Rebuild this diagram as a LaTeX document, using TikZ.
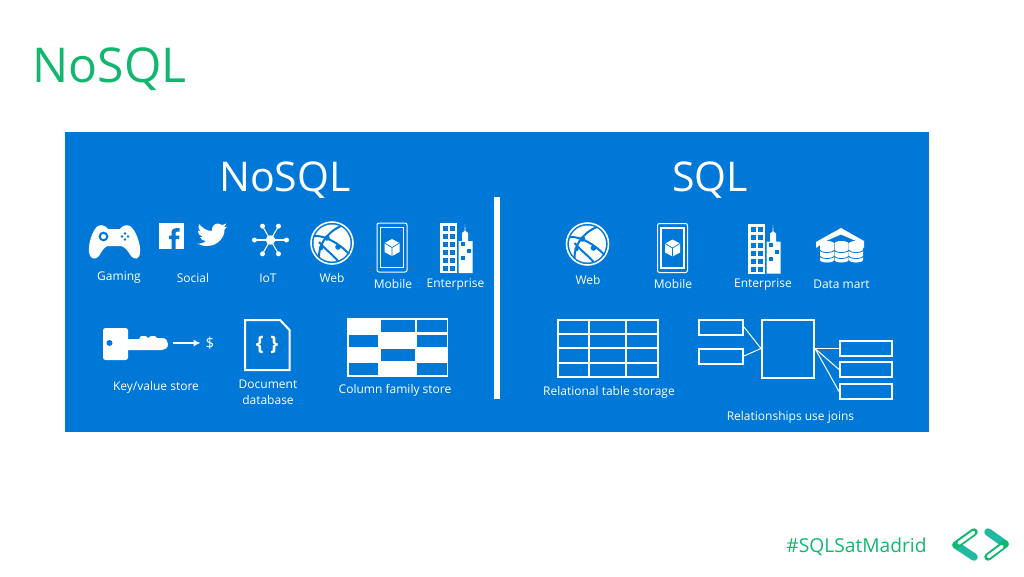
\documentclass[tikz,border=0pt]{standalone}
\usepackage{fontspec}
\usetikzlibrary{arrows.meta}
\setmainfont{Open Sans}
\definecolor{panel}{HTML}{0078D7}
\definecolor{slidegreen}{HTML}{12B76F}
\definecolor{chevteal}{HTML}{1FB8A0}
\tikzset{
	webicon/.pic = {
		\fill[white] (0,0) circle (18.5);
		\draw[white, line width=1.6pt] (0,0) circle (21);
		\draw[panel, line width=2pt] (-18,-7) .. controls (-8,-8) and (7,0) .. (17,11);
		\draw[panel, line width=2pt] (9,-17) .. controls (0,-13) and (-13,-3) .. (-13,14);
		\draw[panel, line width=2pt] (-13,-1) .. controls (-6,7) and (2,13) .. (6,18);
		\fill[panel] (-5,-5) circle (2.8) (6,4) circle (2.8) (-11,5) circle (2.2);
	},
	mobileicon/.pic = {
		\draw[white, line width=1pt, rounded corners=2pt] (-15,-24.5) rectangle (15,24.5);
		\draw[white, line width=1.4pt] (-11.5,-20) rectangle (11.5,20);
		\fill[white] (0,-8.5) -- (7.5,-4.5) -- (7.5,4.5) -- (0,8.5) -- (-7.5,4.5) -- (-7.5,-4.5) -- cycle;
		\draw[panel, line width=0.7pt] (-7.5,-4.5) -- (0,0) -- (7.5,-4.5) (0,0) -- (0,8.5);
	},
	enterpriseicon/.pic = {
		\fill[white] (0,0) rectangle (17,50);
		\foreach \rowy in {3,11,19,27,35,43} {
			\fill[panel] (3,\rowy) rectangle +(5,5);
			\fill[panel] (10,\rowy) rectangle +(5,5);
		}
		\fill[white] (18.5,50) -- (18.5,18) -- (22,18) -- (22,10) -- (24.5,8) -- (25,1) -- (25.5,8) -- (28,10) -- (28,18) -- (32.5,18) -- (32.5,50) -- cycle;
		\fill[panel] (21,19) rectangle +(4,4);
		\fill[panel] (26.5,26) rectangle +(4,4);
		\fill[panel] (21,33) rectangle +(4,4);
	}
}
\begin{document}
\begin{tikzpicture}[x=1pt, y=-1pt,
	iconlabel/.style = {text=white, inner sep=0pt, font=\fontsize{12}{14}\selectfont},
	heading/.style = {text=white, inner sep=0pt, font=\fontsize{41}{44}\selectfont},
	joinbox/.style = {draw=white, line width=2pt, inner sep=0pt},
	joinline/.style = {white, line width=1pt}]

	\useasboundingbox (0,0) rectangle (1024,576);
	\node[text=slidegreen, inner sep=0pt, font=\fontsize{48}{54}\selectfont] (slidetitle) at (109.5,69) {NoSQL};
	\fill[panel] (65,132) rectangle (929,432);
	\node[heading] (nosql) at (285,180) {NoSQL};
	\node[heading] (sql) at (710,180) {SQL};
	\fill[white] (494,197) rectangle (500,399);

	% gaming
	\fill[white] (98,226) .. controls (92,230) and (88,245) .. (89,252) .. controls (90,259) and (95,261) .. (99,256) .. controls (102,251) and (104,247) .. (108,246) -- (121,246) .. controls (125,247) and (128,251) .. (131,256) .. controls (135,261) and (140,259) .. (140,252) .. controls (141,245) and (136,230) .. (130,226) .. controls (126,224) and (122,226) .. (120,229) -- (108,229) .. controls (106,226) and (102,224) .. (98,226) -- cycle;
	\draw[panel, line width=2pt] (103.5,236.5) circle (3.8);
	\fill[panel] (125,233.5) circle (1.4) (125,239.5) circle (1.4) (122,236.5) circle (1.4) (128,236.5) circle (1.4);

	% social
	\fill[white] (159,223) rectangle (184,249);
	\fill[panel] (171.5,249) -- (171.5,239) -- (169,239) -- (169,235.5) -- (171.5,235.5) -- (171.5,233) .. controls (171.5,229.5) and (173.5,228) .. (176.5,228) -- (179.5,228) -- (179.5,231.5) -- (177.5,231.5) .. controls (176,231.5) and (175.5,232) .. (175.5,233.5) -- (175.5,235.5) -- (179.5,235.5) -- (179,239) -- (175.5,239) -- (175.5,249) -- cycle;
	\fill[white] (227,226.7) .. controls (226,228) and (225,229) .. (224.5,229.5) .. controls (224.8,237) and (218,246) .. (207,246) .. controls (203,246) and (200,245) .. (197,243.5) .. controls (200,244) and (204,243) .. (206,241) .. controls (203,241) and (201,239.5) .. (200,237) .. controls (201,237) and (202,237) .. (203,237) .. controls (200,236) and (198,234) .. (198,230.5) .. controls (199,231) and (200,231.5) .. (201,231.5) .. controls (198,229) and (198,226) .. (199,224) .. controls (202,228) and (207,231) .. (212,231) .. controls (211.5,227) and (214,223.5) .. (218,223.5) .. controls (220,223.5) and (221,224) .. (222.5,225) .. controls (224,225) and (225,224) .. (226.5,223.5) .. controls (226,225) and (225,226) .. (224,227) .. controls (225,227) and (226,227) .. (227,226.7) -- cycle;

	% iot
	\fill[white] (270.5,240) circle (4.8);
	\foreach \nodeangle in {0,60,120,180,240,300} {
		\draw[white, line width=1.1pt] (270.5,240) -- ++(\nodeangle:16);
		\fill[white] (270.5,240) ++(\nodeangle:16) circle (2.5);
	}

	\pic at (332,243) {webicon};
	\pic at (392,247.5) {mobileicon};
	\pic at (440,223) {enterpriseicon};
	\pic at (587.5,244) {webicon};
	\pic at (672.5,248) {mobileicon};
	\pic at (748,223.5) {enterpriseicon};

	% data mart
	\fill[white] (816,248) -- (816,242) -- (841,228) -- (864,241) -- (864,248) -- (856,241) -- (841,234.5) -- (826,241) -- cycle;
	\foreach \stackx in {827,841.5,856} {
		\fill[white] (\stackx-7,244) arc (180:360:7 and 2.5) -- ++(0,16) arc (0:180:7 and 2.5) -- cycle;
		\fill[white] (\stackx,243.5) ellipse (7 and 2.5);
		\draw[panel, line width=0.8pt] (\stackx-7,250) arc (180:0:7 and 2.5) (\stackx-7,256) arc (180:0:7 and 2.5);
	}

	\node[iconlabel] (gaming) at (119,278) {Gaming};
	\node[iconlabel] (social) at (193,278) {Social};
	\node[iconlabel] (iot) at (268,278) {IoT};
	\node[iconlabel] (web1) at (332,278) {Web};
	\node[iconlabel] (mobile1) at (393,284) {Mobile};
	\node[iconlabel] (enterprise1) at (455.5,285) {Enterprise};
	\node[iconlabel] (web2) at (588,280) {Web};
	\node[iconlabel] (mobile2) at (673,284) {Mobile};
	\node[iconlabel] (enterprise2) at (763,285) {Enterprise};
	\node[iconlabel] (datamart) at (841.5,284) {Data mart};

	% key
	\fill[white, rounded corners=2.5pt] (103,328) rectangle (128,360);
	\fill[white] (127,339) -- (139,339) -- (141,336) -- (146,336) -- (148,338) -- (151,336) -- (155,336) -- (157,338) -- (162,338) .. controls (166,338) and (168,341) .. (168,344) .. controls (168,348) and (165,350) .. (162,350) -- (127,350) -- cycle;
	\fill[panel] (109.5,343) circle (3);
	\coordinate (keyend) at (173,343);
	\node[text=white, inner sep=0pt, font=\fontsize{15}{17}\selectfont] (dollar) at (210,343) {\$};
	\draw[white, line width=1.2pt, -{Latex[length=7pt,width=7pt]}] (keyend) -- ([xshift=-5pt]dollar.west);
	\node[iconlabel] (keyvalue) at (156,387) {Key/value store};

	% document
	\draw[white, line width=2pt] (245,320) -- (280,320) -- (289.5,330) -- (289.5,370) -- (245,370) -- cycle;
	\node[text=white, inner sep=0pt, font=\bfseries\fontsize{20}{22}\selectfont] (braces) at (267,345) {\{\,\,\}};
	\node[iconlabel] (document) at (268,384) {Document};
	\node[iconlabel] (database) at (268,400) {database};

	% column family
	\fill[white] (347,318) rectangle (448,377);
	\foreach \cellx/\celly/\cellw in {381/320/34, 417/320/30, 349/335/29, 417/335/30, 381/349/34, 349/363/29, 417/363/30} {
		\fill[panel] (\cellx,\celly) rectangle +(\cellw,12);
	}
	\node[iconlabel] (columnfamily) at (395,390) {Column family store};

	% relational
	\draw[white, line width=2pt] (557.5,319.5) rectangle (658,377);
	\foreach \linex in {589,626} {
		\draw[white, line width=2pt] (\linex,319.5) -- (\linex,377);
	}
	\foreach \liney in {334,348,363} {
		\draw[white, line width=2pt] (557.5,\liney) -- (658,\liney);
	}
	\node[iconlabel] (relational) at (609,392) {Relational table storage};

	% joins
	\node[joinbox, minimum width=44pt, minimum height=15pt] (left1) at (721,327) {};
	\node[joinbox, minimum width=44pt, minimum height=15pt] (left2) at (721,356) {};
	\node[joinbox, minimum width=52pt, minimum height=58pt] (big) at (788,348.5) {};
	\node[joinbox, minimum width=52pt, minimum height=14.5pt] (right1) at (866,348.5) {};
	\node[joinbox, minimum width=52pt, minimum height=14.5pt] (right2) at (866,369.5) {};
	\node[joinbox, minimum width=52pt, minimum height=14.5pt] (right3) at (866,391.5) {};

	\draw[joinline] (left1.east) -- (big.west);
	\draw[joinline] (left2.east) -- (big.west);
	\draw[joinline] (big.east) -- (right1.west);
	\draw[joinline] (big.east) -- (right2.west);
	\draw[joinline] (big.east) -- (right3.west);
	\node[iconlabel] (joins) at (790.5,417) {Relationships use joins};

	% footer
	\node[text=slidegreen, inner sep=0pt, font=\fontsize{19.2}{24}\selectfont] (hashtag) at (856.5,547) {\#SQLSatMadrid};
	\draw[chevteal, line width=7.5pt, line cap=round] (956,545) -- (974,557);
	\draw[slidegreen, line width=7.5pt, line cap=round] (974,532) -- (956,545);
	\draw[white, line width=3.5pt, line cap=round] (973.5,532.5) -- (959,543);
	\draw[chevteal, line width=7.5pt, line cap=round] (988,532) -- (1005,544);
	\draw[slidegreen, line width=7.5pt, line cap=round] (1005,544) -- (988,557);
	\draw[white, line width=3.5pt, line cap=round] (1002,546.5) -- (988.5,556.5);
\end{tikzpicture}
\end{document}
